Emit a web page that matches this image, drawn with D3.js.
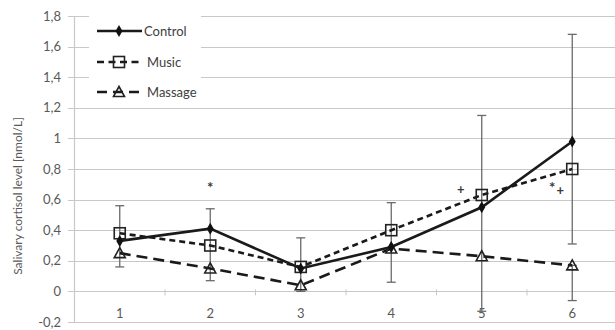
<!DOCTYPE html>
<html><head><meta charset="utf-8">
<script src="https://cdn.jsdelivr.net/npm/d3@7"></script>
<style>body{margin:0;background:#fff}svg{display:block}text{font-family:Lato,"Open Sans",sans-serif}</style>
</head><body><svg id="c" width="615" height="330"></svg>
<script>
const categories = ["1","2","3","4","5","6"];
const yTicks = [-0.2,0,0.2,0.4,0.6,0.8,1,1.2,1.4,1.6,1.8];
const control = [0.33,0.41,0.15,0.29,0.55,0.98];
const music   = [0.38,0.30,0.16,0.40,0.63,0.80];
const massage = [0.25,0.15,0.04,0.28,0.23,0.17];
// visible error bar extents (low, high) per category
const errLow  = [0.16,0.07,0.00,0.06,-0.13,0.31];
const errHigh = [0.56,0.54,0.35,0.58,1.15,1.68];
const massageErrLow  = [null,null,null,null,null,-0.06];
const massageErrHigh = [null,null,null,null,null,0.17];
const annotations = [["2",0.70,"*"],["5",0.67,"+"],["6",0.70,"*"],["6",0.66,"+"]];

const svg = d3.select("#c");
const x = d3.scaleBand().domain(categories).range([74.5,617.5]);
const y = d3.scaleLinear().domain([-0.2,1.8]).range([322,16]);
const cx = c => x(c) + x.bandwidth()/2;

// gridlines
svg.append("g").selectAll("line").data(yTicks).join("line")
  .attr("x1",68).attr("x2",615).attr("y1",d=>Math.round(y(d))+0.5).attr("y2",d=>Math.round(y(d))+0.5)
  .attr("stroke","#c8c8c8").attr("stroke-width",1.2);
// y axis line
svg.append("line").attr("x1",74.5).attr("x2",74.5).attr("y1",y(1.8)).attr("y2",y(-0.2))
  .attr("stroke","#c8c8c8").attr("stroke-width",1.2);
// minor ticks on the zero line
svg.append("g").selectAll("line").data(categories.slice(1)).join("line")
  .attr("x1",d=>x(d)).attr("x2",d=>x(d)).attr("y1",y(0)-2).attr("y2",y(0)+4)
  .attr("stroke","#c8c8c8").attr("stroke-width",1);
// y tick labels
svg.append("g").selectAll("text").data(yTicks).join("text")
  .attr("x",61).attr("y",d=>y(d)+4.5).attr("text-anchor","end")
  .attr("font-size",13).attr("fill","#595959")
  .text(d=>d3.format(".1~f")(d).replace(".",",").replace("\u2212","-"));
// x labels
svg.append("g").selectAll("text").data(categories).join("text")
  .attr("x",d=>cx(d)).attr("y",318).attr("text-anchor","middle")
  .attr("font-size",13).attr("fill","#595959").text(d=>d);
// y title
svg.append("text").attr("transform","translate(22,196) rotate(-90)")
  .attr("text-anchor","middle").attr("font-size",12).attr("fill","#595959")
  .text("Salivary cortisol level [nmol/L]");

// error bars
function errBars(lo, hi){
  const g = svg.append("g").attr("stroke","#6a6a6a").attr("stroke-width",1.3);
  categories.forEach((c,i)=>{
    if(lo[i]==null) return;
    const X = cx(c);
    g.append("line").attr("x1",X).attr("x2",X).attr("y1",y(lo[i])).attr("y2",y(hi[i]));
    g.append("line").attr("x1",X-4.5).attr("x2",X+4.5).attr("y1",y(lo[i])).attr("y2",y(lo[i]));
    g.append("line").attr("x1",X-4.5).attr("x2",X+4.5).attr("y1",y(hi[i])).attr("y2",y(hi[i]));
  });
}
errBars(errLow, errHigh);
errBars(massageErrLow, massageErrHigh);

const line = d3.line().x((d,i)=>cx(categories[i])).y(d=>y(d));
const series = [
  {name:"Massage", data:massage, dash:"11,6", marker:"tri"},
  {name:"Music", data:music, dash:"6,4", marker:"sq"},
  {name:"Control", data:control, dash:null, marker:"dia"}
];
function marker(g, type, X, Y){
  if(type==="dia") g.append("path").attr("d",d3.symbol(d3.symbolDiamond,42)()).attr("transform",`translate(${X},${Y})`).attr("fill","#111");
  if(type==="sq") g.append("rect").attr("x",X-5.5).attr("y",Y-5.5).attr("width",11).attr("height",11).attr("fill","none").attr("stroke","#222").attr("stroke-width",1.6);
  if(type==="tri") g.append("path").attr("d",`M${X},${Y-5.5}L${X+5.5},${Y+4.5}L${X-5.5},${Y+4.5}Z`).attr("fill","none").attr("stroke","#222").attr("stroke-width",1.6);
}
series.forEach(s=>{
  svg.append("path").attr("d",line(s.data)).attr("fill","none").attr("stroke","#1a1a1a")
    .attr("stroke-width",2.6).attr("stroke-dasharray",s.dash);
});
series.forEach(s=>{
  const g = svg.append("g");
  s.data.forEach((v,i)=>marker(g,s.marker,cx(categories[i]),y(v)));
});

// annotations
annotations.forEach(a=>{
  let dx = 0;
  if(a[0]==="5") dx=-21;
  if(a[0]==="6") dx = a[2]==="*" ? -20 : -12;
  const isStar = a[2]==="*";
  svg.append("text").attr("x",cx(a[0])+dx).attr("y",y(a[1])+(isStar?9:5)).attr("text-anchor","middle")
    .attr("font-size",isStar?15:13).attr("font-weight","bold").attr("fill","#3a3a3a").text(a[2]);
});

// legend
const lg = svg.append("g");
lg.append("rect").attr("x",89).attr("y",3).attr("width",112).attr("height",100).attr("fill","#fff");
const legendItems = [["Control","dia",null,31],["Music","sq","6,4",62],["Massage","tri","11,6",92]];
legendItems.forEach(([name,m,dash,ly])=>{
  if(dash===null){
    lg.append("line").attr("x1",97).attr("x2",142).attr("y1",ly).attr("y2",ly).attr("stroke","#1a1a1a").attr("stroke-width",2.6);
  } else {
    lg.append("line").attr("x1",97).attr("x2",140).attr("y1",ly).attr("y2",ly).attr("stroke","#1a1a1a").attr("stroke-width",2.6).attr("stroke-dasharray",m==="sq"?"7,4.5":"10,6");
  }
  marker(lg,m,119,ly);
  lg.append("text").attr("x",m==="dia"?144:147).attr("y",ly+4.5).attr("font-size",13).attr("fill","#404040").text(name);
});
</script></body></html>
